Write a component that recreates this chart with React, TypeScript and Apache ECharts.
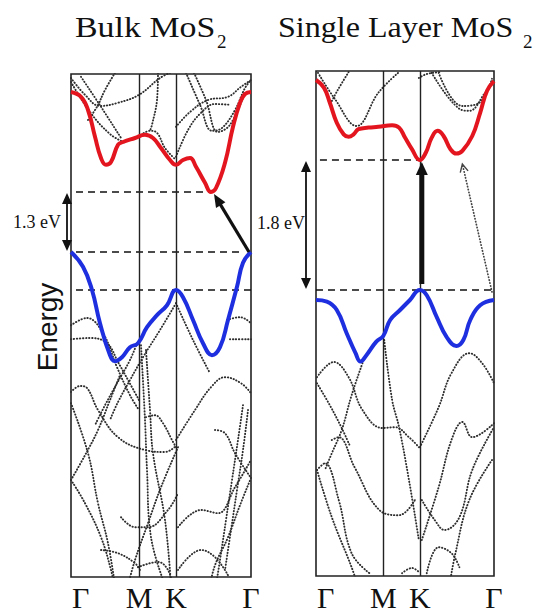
import React, { useEffect, useRef } from "react";
import * as echarts from "echarts";

// k-path positions (Γ, M, K, Γ) in path units
const kPoints = [0, 68, 105, 180];
const kLabels = ["Γ", "M", "K", "Γ"];

// energies (arbitrary units)
const bulkCBM = 2.45;
const bulkVBM = 0.95;
const kVBM = 0;
const singleCBM = 3.25;
const singleVBM = 0;
const bulkGapLabel = "1.3 eV";
const singleGapLabel = "1.8 eV";
const titles = ["Bulk MoS", "Single Layer MoS"];

// Bulk MoS2 — lowest conduction band (red) and highest valence band (blue)
const bulkConduction = [
  [0, 4.95], [10, 4.83], [17, 4.5], [24, 3.83], [30, 3.3], [35, 3.13], [40, 3.2], [47, 3.63],
  [52, 3.7], [64, 3.8], [74, 3.88], [82, 3.8], [90, 3.55], [99, 3.25], [105, 3.13], [112, 3.25],
  [119, 3.3], [125, 3.08], [134, 2.68], [140, 2.45], [145, 2.55], [154, 3.18], [162, 4.08],
  [169, 4.68], [174, 4.9], [180, 4.95],
];
const bulkValence = [
  [0, 0.95], [12, 0.58], [21, 0], [29, -0.83], [39, -1.63], [44, -1.78], [51, -1.68], [59, -1.43],
  [67, -1.33], [76, -0.93], [86, -0.63], [96, -0.38], [105, 0], [112, -0.18], [122, -0.75],
  [132, -1.33], [141, -1.63], [149, -1.43], [157, -0.75], [166, 0.08], [172, 0.68], [180, 0.95],
];

// Single layer MoS2
const singleConduction = [
  [0, 5.25], [8, 5.06], [14, 4.68], [21, 4.18], [28, 3.89], [33, 3.83], [38, 3.89], [43, 4.02],
  [53, 4.06], [63, 4.08], [77, 4.12], [84, 4.06], [90, 3.81], [97, 3.52], [105, 3.25], [111, 3.43],
  [117, 3.81], [123, 3.98], [129, 3.85], [136, 3.52], [142, 3.41], [148, 3.48], [158, 3.85],
  [166, 4.43], [173, 4.98], [180, 5.22],
];
const singleValence = [
  [0, -0.25], [11, -0.29], [21, -0.5], [31, -1.08], [40, -1.58], [45, -1.79], [51, -1.63],
  [61, -1.29], [68, -1.15], [75, -0.75], [85, -0.5], [95, -0.25], [105, 0], [112, -0.13],
  [122, -0.67], [132, -1.17], [142, -1.4], [149, -1.25], [156, -0.75], [166, -0.38], [180, -0.25],
];

// other bands (dotted)
const bulkUpperBands = [
  [[0, 5.3], [14, 4.88], [29, 4.6], [47, 4.68], [68, 4.88], [89, 5.3], [99, 5.43]],
  [[0, 5.2], [19, 4.45], [39, 3.9], [54, 3.68]],
  [[10, 5.33], [30, 4.58], [50, 3.8]],
  [[44, 5.43], [34, 5.0], [26, 4.58], [17, 4.25]],
  [[70, 3.88], [79, 3.98], [86, 3.93], [94, 3.55], [105, 3.25]],
  [[87, 5.43], [86, 4.75], [81, 4.13], [79, 3.98]],
  [[115, 5.43], [129, 4.63], [141, 3.98], [151, 4.05], [164, 4.5], [174, 5.05], [180, 5.25]],
  [[123, 5.43], [135, 4.75], [147, 3.95], [159, 4.13], [173, 4.88]],
  [[105, 4.08], [119, 4.45], [137, 4.75], [157, 4.83], [170, 5.08], [180, 5.25]],
  [[105, 3.33], [117, 4.0], [130, 4.43], [144, 4.65], [159, 4.63]],
];
const bulkLowerBands = [
  [[0, -0.88], [16, -0.7], [32, -1.08], [46, -1.93], [59, -2.63], [68, -3.0]],
  [[0, -1.23], [19, -1.2], [36, -1.33], [47, -1.8], [57, -2.25], [68, -2.75]],
  [[105, -0.33], [89, -1.0], [72, -1.68], [59, -2.25], [47, -2.8], [39, -3.25]],
  [[105, -0.33], [122, -1.25], [139, -2.08]],
  [[66, -1.33], [59, -1.75], [46, -2.33], [34, -2.88], [24, -3.38]],
  [[156, -0.75], [169, -0.68], [180, -0.83]],
  [[159, -1.23], [180, -1.23]],
  [[0, -2.55], [9, -2.4], [16, -2.45], [27, -3.0], [47, -3.68], [74, -4.0], [94, -4.05], [105, -3.9]],
  [[105, -3.75], [124, -3.0], [140, -2.43], [154, -2.18], [170, -2.33], [180, -2.58]],
  [[144, -3.5], [154, -3.58], [164, -4.08], [180, -4.7]],
  [[180, -4.7], [169, -5.38], [157, -6.18], [144, -6.88], [139, -7.38]],
  [[0, -4.75], [14, -4.13], [27, -3.5], [39, -2.75], [49, -2.13]],
  [[0, -4.75], [14, -5.33], [30, -6.18], [40, -7.0], [43, -7.38]],
  [[0, -2.83], [17, -4.08], [27, -5.33], [37, -6.33], [44, -7.38]],
  [[50, -5.68], [64, -5.93], [77, -5.93], [97, -5.5], [107, -5.08]],
  [[107, -5.93], [130, -5.5], [147, -5.58], [164, -4.93], [180, -4.25]],
  [[107, -7.0], [130, -6.5], [144, -6.68], [157, -7.13]],
  [[30, -6.5], [47, -6.58], [64, -6.83], [69, -7.0]],
  [[67, -6.93], [87, -6.8], [97, -7.0], [101, -7.38]],
  [[70, -1.38], [74, -3.25], [76, -4.5], [80, -6.18], [94, -7.38]],
  [[75, -1.5], [79, -3.0], [82, -4.08], [94, -5.75], [100, -7.38]],
  [[107, -3.93], [90, -4.93], [77, -5.83], [64, -6.75], [57, -7.38]],
  [[75, -3.18], [84, -3.13], [92, -3.33], [101, -3.75], [105, -3.93]],
  [[172, -2.88], [167, -3.75], [161, -4.75], [155, -5.75], [149, -6.75], [145, -7.38]],
  [[177, -3.0], [172, -4.0], [166, -5.0], [160, -6.0], [154, -7.0]],
];
const singleUpperBands = [
  [[2, 5.43], [19, 4.78], [41, 4.1], [63, 4.93], [84, 5.45]],
  [[33, 5.45], [22, 5.0], [14, 4.63]],
  [[117, 5.43], [145, 4.53], [155, 4.48], [171, 4.93], [180, 5.23]],
  [[124, 5.43], [148, 4.6], [165, 4.68], [178, 5.28]],
  [[104, 5.3], [112, 5.4], [127, 5.45]],
];
const singleLowerBands = [
  [[1, -2.18], [18, -1.8], [33, -2.18], [47, -3.0], [67, -3.45], [80, -3.43], [94, -3.68], [104, -3.93]],
  [[47, -1.83], [36, -2.63], [26, -3.5], [16, -4.08], [9, -4.5]],
  [[1, -2.33], [14, -2.88], [26, -3.45], [34, -3.88]],
  [[69, -1.25], [77, -2.75], [84, -3.43], [94, -4.75], [104, -6.25]],
  [[105, -3.93], [124, -2.93], [137, -2.08], [155, -1.58], [168, -1.83], [180, -2.33]],
  [[107, -6.25], [124, -4.93], [137, -3.75], [148, -3.3], [158, -3.68], [180, -3.33]],
  [[107, -5.25], [120, -5.75], [130, -6.0], [145, -5.68], [158, -4.5], [180, -3.43]],
  [[1, -4.5], [9, -4.33], [23, -5.25], [36, -6.58], [54, -7.08]],
  [[16, -3.75], [23, -3.68], [39, -4.43], [64, -5.5], [84, -5.63], [100, -5.25]],
  [[1, -4.5], [16, -5.68], [36, -6.93], [42, -7.38]],
  [[112, -7.08], [124, -6.43], [137, -6.58], [145, -6.93]],
  [[87, -7.08], [97, -6.95], [104, -7.05]],
  [[178, -4.25], [155, -5.25], [141, -6.58], [135, -7.38]],
];

const RED = "#e3161f";
const BLUE = "#1e2fe0";
const SERIF = "'Liberation Serif', 'Times New Roman', serif";

export default function App() {
  const ref = useRef<HTMLDivElement>(null);
  useEffect(() => {
    const chart = echarts.init(ref.current!, null, { renderer: "svg" });

    const band = (d: number[][], gi: number) => ({
      type: "line", xAxisIndex: gi, yAxisIndex: gi, data: d, smooth: 0.4, symbol: "none",
      silent: true, z: 2,
      lineStyle: { color: "#2e2e2e", width: 1.9, type: [0.4, 2.6], cap: "round" },
    });
    const main = (d: number[][], gi: number, color: string) => ({
      type: "line", xAxisIndex: gi, yAxisIndex: gi, data: d, smooth: 0.45, symbol: "none",
      silent: true, z: 5, lineStyle: { color, width: 4 },
    });
    const level = (x0: number, x1: number, e: number, gi: number) => ({
      type: "line", xAxisIndex: gi, yAxisIndex: gi, data: [[x0, e], [x1, e]], symbol: "none",
      silent: true, z: 4, lineStyle: { color: "#111", width: 1.6, type: [7, 5] },
    });
    const kLines = (gi: number) => ({
      type: "line", xAxisIndex: gi, yAxisIndex: gi, data: [], symbol: "none", silent: true,
      markLine: {
        silent: true, symbol: "none", label: { show: false }, animation: false,
        lineStyle: { color: "#222", width: 1.4, type: "solid" },
        data: kPoints.slice(1, 3).map((v) => ({ xAxis: v })),
      },
    });

    chart.setOption({
      animation: false,
      grid: [
        { left: 71, top: 74, width: 180, height: 503, show: true, borderColor: "#222", borderWidth: 1.6, backgroundColor: "transparent" },
        { left: 316, top: 71, width: 178, height: 505, show: true, borderColor: "#222", borderWidth: 1.6, backgroundColor: "transparent" },
      ],
      xAxis: [0, 1].map((gi) => ({ type: "value", gridIndex: gi, min: 0, max: 180, show: false })),
      yAxis: [
        { type: "value", gridIndex: 0, min: -7.175, max: 5.4, show: false },
        { type: "value", gridIndex: 1, min: -7.15, max: 5.475, show: false },
      ],
      series: [
        ...bulkUpperBands.map((d) => band(d, 0)),
        ...bulkLowerBands.map((d) => band(d, 0)),
        ...singleUpperBands.map((d) => band(d, 1)),
        ...singleLowerBands.map((d) => band(d, 1)),
        kLines(0),
        kLines(1),
        level(5, 140, bulkCBM, 0),
        level(5, 173, bulkVBM, 0),
        level(5, 180, kVBM, 0),
        level(4, 105, singleCBM, 1),
        level(0, 180, singleVBM, 1),
        main(bulkConduction, 0, RED),
        main(bulkValence, 0, BLUE),
        main(singleConduction, 1, RED),
        main(singleValence, 1, BLUE),
      ],
    });

    const p = (gi: number, x: number, e: number) =>
      chart.convertToPixel({ xAxisIndex: gi, yAxisIndex: gi }, [x, e]) as number[];

    const arrow = (a: number[], b: number[], o: any) => {
      const dx = b[0] - a[0], dy = b[1] - a[1];
      const len = Math.hypot(dx, dy);
      const ux = dx / len, uy = dy / len, nx = -uy, ny = ux;
      const base = [b[0] - ux * o.head, b[1] - uy * o.head];
      const hw = o.headW / 2;
      const els: any[] = [];
      const end = o.open ? b : [b[0] - ux * o.head * 0.6, b[1] - uy * o.head * 0.6];
      els.push({
        type: "line", z: 20,
        shape: { x1: a[0], y1: a[1], x2: end[0], y2: end[1] },
        style: { stroke: o.color, lineWidth: o.w, lineDash: o.dash || null, lineCap: o.dash ? "round" : "butt" },
      });
      const pts = [[base[0] + nx * hw, base[1] + ny * hw], b, [base[0] - nx * hw, base[1] - ny * hw]];
      if (o.open) {
        els.push({ type: "polyline", z: 20, shape: { points: pts }, style: { stroke: o.color, lineWidth: 1.4, fill: null } });
      } else {
        els.push({ type: "polygon", z: 20, shape: { points: pts }, style: { fill: o.color } });
      }
      return els;
    };

    const g: any[] = [];
    // titles
    g.push({ type: "text", x: 75, y: 27, scaleX: 1.13, style: { text: titles[0], font: `30px ${SERIF}`, fill: "#111", verticalAlign: "middle", align: "left" } });
    g.push({ type: "text", x: 217, y: 41, style: { text: "2", font: `19px ${SERIF}`, fill: "#111", verticalAlign: "middle", align: "left" } });
    g.push({ type: "text", x: 278, y: 27, scaleX: 1.07, style: { text: titles[1], font: `30px ${SERIF}`, fill: "#111", verticalAlign: "middle", align: "left" } });
    g.push({ type: "text", x: 523, y: 41, style: { text: "2", font: `19px ${SERIF}`, fill: "#111", verticalAlign: "middle", align: "left" } });

    // k labels
    [0, 1].forEach((gi) => {
      kPoints.forEach((k, i) => {
        const px = p(gi, k, 0)[0];
        const first = i === 0;
        g.push({
          type: "text", x: first ? px + 1 : px, y: 597,
          style: { text: kLabels[i], font: `30px ${SERIF}`, fill: "#111", align: first ? "left" : "center", verticalAlign: "middle" },
        });
      });
    });

    // Energy label
    g.push({
      type: "text", x: 47, y: 327, rotation: Math.PI / 2,
      style: { text: "Energy", font: `28px 'Liberation Sans', Arial, sans-serif`, fill: "#111", align: "center", verticalAlign: "middle" },
    });

    // gap double arrows
    const dbl = (xpx: number, yTop: number, yBot: number) => {
      const mid = (yTop + yBot) / 2;
      return [
        ...arrow([xpx, mid], [xpx, yTop], { w: 1.8, head: 11, headW: 10, color: "#111" }),
        ...arrow([xpx, mid], [xpx, yBot], { w: 1.8, head: 11, headW: 10, color: "#111" }),
      ];
    };
    const lt = p(0, 0, bulkCBM), lb = p(0, 0, bulkVBM);
    g.push(...dbl(67, lt[1] + 1, lb[1] - 1));
    g.push({ type: "text", x: 37, y: lt[1] + (lb[1] - lt[1]) / 2, style: { text: bulkGapLabel, font: `18px ${SERIF}`, fill: "#111", align: "center", verticalAlign: "middle" } });
    const rt = p(1, 0, singleCBM), rb = p(1, 0, singleVBM);
    g.push(...dbl(306, rt[1] + 1, rb[1] - 1));
    g.push({ type: "text", x: 281, y: 223, style: { text: singleGapLabel, font: `18px ${SERIF}`, fill: "#111", align: "center", verticalAlign: "middle" } });

    // transitions
    g.push(...arrow(p(0, 178, bulkVBM), p(0, 143, bulkCBM - 0.05), { w: 3.2, head: 13, headW: 11, color: "#111" }));
    g.push(...arrow(p(1, 107, 0.15), p(1, 107, singleCBM - 0.05), { w: 5, head: 13, headW: 12, color: "#111" }));
    g.push(...arrow(p(1, 178, -0.05), p(1, 148, 3.15), { w: 1.7, head: 8, headW: 8, color: "#444", dash: [0.4, 2.6], open: true }));

    chart.setOption({ graphic: g });
    return () => chart.dispose();
  }, []);

  return <div ref={ref} style={{ position: "absolute", left: 0, top: 0, width: 539, height: 612, background: "#fff" }} />;
}
